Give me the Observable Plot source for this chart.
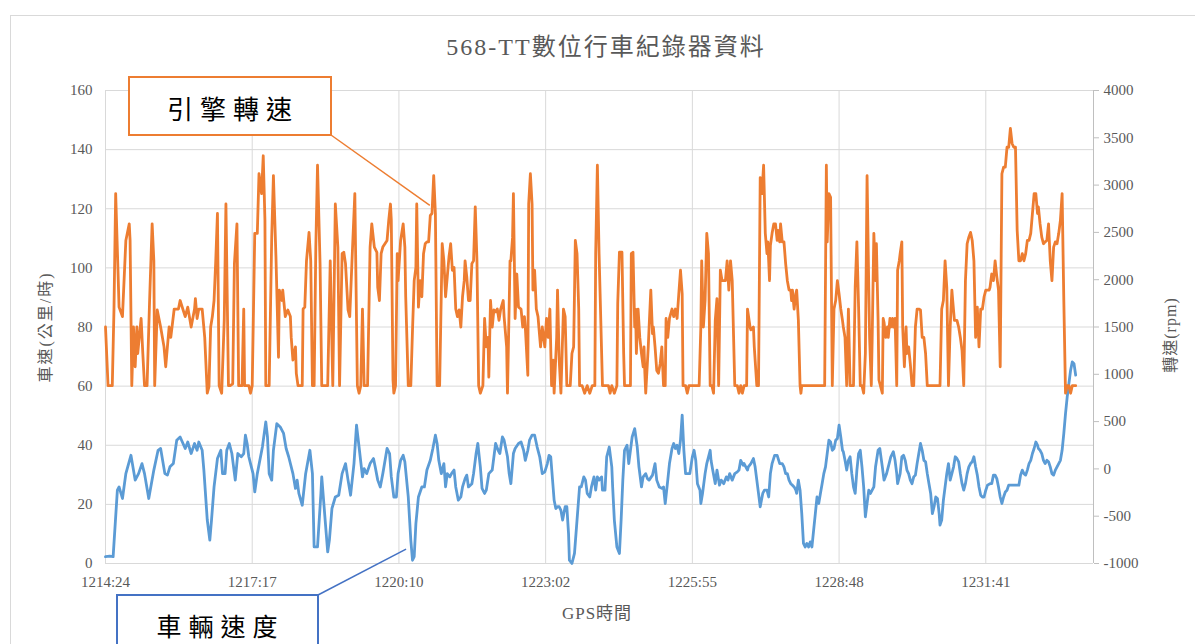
<!DOCTYPE html>
<html><head><meta charset="utf-8">
<script src="https://cdn.jsdelivr.net/npm/d3@7"></script>
<script src="https://cdn.jsdelivr.net/npm/@observablehq/plot@0.6"></script>
<style>
body{margin:0;background:#fff;}
#wrap{position:relative;width:1195px;height:644px;overflow:hidden;background:#fff;}
</style></head><body><div id="wrap"></div>
<script>
// ---- data (sample index = seconds since 12:14:24) ----
const tickIndex = [0,173,346,519,692,865,1038];
const tickLabels = ["1214:24","1217:17","1220:10","1223:02","1225:55","1228:48","1231:41"];
const speedTicks = [0,20,40,60,80,100,120,140,160];
const rpmTicks = [-1000,-500,0,500,1000,1500,2000,2500,3000,3500,4000];

const rpmTime = [0,3,8,10,12,16,20,24,28,29,31,33,35,37,38,42,44,46,49,52,55,57,58,61,65,69,71,75,77,81,86,88,94,97,101,105,
106,108,110,114,117,120,122,124,126,128,130,132,134,137,140,142,145,147,150,152,155,157,161,163,164,169,171,173,176,179,181,184,186,188,189,193,196,198,201,204,205,208,209,212,215,
218,219,221,224,225,227,232,233,235,237,240,242,244,246,248,250,253,255,262,265,268,271,274,276,279,281,283,286,288,291,294,297,299,301,303,305,309,312,314,317,320,321,323,325,327,
332,334,336,337,339,340,342,344,345,347,348,351,353,354,357,360,362,364,366,367,369,371,373,375,377,379,381,383,385,387,389,391,394,397,399,401,403,405,407,409,411,413,415,417,419,421,423,424,426,428,430,432,434,436,438,440,
442,445,447,449,451,452,454,456,458,460,462,464,466,469,470,473,474,477,478,480,481,483,485,487,490,492,494,495,498,499,501,503,504,506,508,510,511,513,515,518,520,522,524,526,528,529,532,533,535,537,540,542,544,548,550,552,
554,556,558,559,562,565,568,571,574,577,578,580,582,586,593,595,597,600,603,604,606,609,611,612,619,620,622,624,625,626,628,630,632,634,635,636,637,640,641,643,645,646,648,650,652,654,656,658,660,661,663,665,
668,670,672,674,676,678,680,681,684,686,688,700,702,703,705,707,709,711,713,715,717,719,721,723,725,727,729,731,733,735,737,739,742,745,747,749,751,753,756,757,760,761,764,765,768,770,772,774,776,778,
780,781,783,784,786,788,790,792,793,795,796,798,800,802,804,806,808,809,810,812,814,815,817,819,820,821,848,850,851,853,855,857,859,861,863,865,867,869,870,872,874,876,878,882,884,886,888,890,892,
894,896,898,900,901,903,904,906,908,909,911,912,914,916,917,918,920,922,923,925,926,928,929,931,933,934,936,937,939,940,942,944,945,947,949,951,953,955,957,959,961,963,965,967,969,984,986,988,990,992,994,996,998,999,1001,
1004,1006,1008,1010,1012,1014,1016,1018,1020,1022,1024,1026,1028,1030,1032,1034,1036,1038,1042,1043,1045,1047,1049,1051,1053,1055,1057,1059,1061,1063,1065,1067,1069,1071,1073,1075,1077,1079,1081,1083,1085,1087,1089,1091,1093,1095,1097,1099,1100,1102,1104,1106,1108,1110,1112,1114,1116,1118,1120,1122,1124,1126,1128,1130,1132,1134,1136,1138,1140,1144];
const rpmValue = [1500,880,880,1690,2910,1710,1610,2415,2590,2415,880,1500,1080,1500,1220,1590,1220,880,880,1780,2590,2200,880,1680,1500,1290,1080,1500,1390,1690,1690,1780,1610,1710,1500,1690,
1800,1590,1690,1690,1390,800,870,1500,1610,1780,2200,2700,880,800,1570,2800,880,880,900,2170,2590,880,880,1690,880,880,800,880,2490,2490,3120,2910,3310,2630,880,880,2450,3100,2240,1180,1890,1780,1890,1610,1680,
1610,1390,1150,1290,1010,880,880,1690,1710,2200,2500,2200,880,880,2345,3210,2170,880,880,2200,880,2800,2345,880,2275,2290,2170,1680,1610,2275,2910,880,800,880,1690,880,880,2345,2590,2345,2290,1920,1780,2275,2345,
2415,2630,2800,2630,940,800,880,2275,1990,2275,2415,2590,2345,1820,880,880,1465,1990,2130,2800,1710,1990,1820,2275,2380,2400,2400,2680,2700,3100,2700,880,880,2380,2200,1820,2030,2240,2380,2100,2130,1690,1610,1680,1500,1820,1990,2200,2030,1780,1780,2170,2200,2770,2200,880,
800,880,1590,1290,1390,970,1780,1500,1680,1660,1690,1570,1690,1780,1610,1290,800,2200,2200,2450,2910,1590,2060,1710,1690,1500,1610,1500,990,2800,3120,2800,1890,2100,1690,1610,1500,1290,1500,1290,1590,1390,1690,880,1150,800,1390,1890,1150,800,1690,1610,880,880,1220,1290,
2415,2275,1690,880,880,800,880,800,880,880,2275,3210,2275,880,880,800,880,800,880,1750,2290,2290,1220,880,880,2275,2290,1500,1690,1220,1690,1390,1220,1080,1290,1010,800,1290,1500,1890,1430,1500,1290,1040,1010,1110,1290,880,880,1590,1390,1590,
1690,1610,1690,1590,1850,2100,1850,880,880,800,880,880,1500,2200,1500,1780,2490,2275,880,880,800,1570,1800,880,2100,1990,1990,1990,2200,1890,2200,1990,880,880,800,880,800,880,880,1690,1500,1470,1500,1290,880,880,3080,2910,3210,2490,
2275,2400,1990,2360,2490,2590,2590,2415,2520,2400,2590,2400,2400,2170,1990,1890,1890,1780,1890,1690,1850,1890,1570,880,800,880,880,3210,2400,2910,2870,880,1690,1780,1990,1850,1690,1570,1500,1390,880,1690,880,880,1920,2400,1710,880,880,
800,1220,3100,1920,1390,880,1360,2490,1990,2380,1570,940,870,800,1590,1550,1390,1500,1390,1590,1500,1590,1500,1590,880,2100,2200,2275,2400,1500,1080,1500,1220,1290,1110,880,880,1500,1690,1690,1680,1390,1390,1220,880,880,1690,1780,2200,1920,880,1500,1890,1780,1570,
1570,1500,1390,1250,880,1990,2380,2450,2500,2415,2200,1390,1710,1290,1690,1690,1820,1890,1890,1920,2060,1990,2200,2030,1890,1080,3120,3190,3190,3400,3400,3600,3440,3400,3400,2520,2200,2200,2275,2200,2275,2415,2415,2490,2700,2910,2910,2700,2770,2590,2450,2380,2400,2415,2590,2200,1990,2345,2400,2380,2490,2630,2910,1780,800,880,880,800,880,880];

const speedTime = [0,5,9,14,16,20,24,30,35,39,43,46,51,57,62,65,70,73,76,80,84,88,94,97,101,105,
108,110,114,116,120,123,125,128,132,136,138,141,143,146,149,153,156,160,163,165,167,169,171,174,176,179,185,189,191,193,196,198,202,206,210,213,216,
221,224,226,228,232,236,241,244,246,250,254,255,259,262,264,267,271,275,279,283,286,289,293,296,299,303,305,308,312,316,318,321,324,327,
332,335,337,340,343,345,348,351,353,357,360,362,364,366,369,373,376,379,383,386,389,391,393,396,399,401,403,406,408,411,413,416,419,421,424,426,428,432,434,437,439,
442,444,447,449,452,456,460,463,465,468,470,474,476,478,481,483,487,490,493,495,498,500,503,506,509,512,515,518,521,523,525,529,531,533,535,537,539,542,544,546,547,550,553,
556,559,561,564,566,568,571,573,576,578,580,582,585,586,589,591,594,597,598,600,603,606,608,610,612,615,617,619,621,624,627,629,632,634,637,639,641,645,648,650,653,656,658,660,663,665,
668,670,672,674,676,678,680,682,684,687,689,692,694,696,698,701,702,704,707,709,713,714,716,719,721,724,726,729,732,734,736,739,742,745,747,749,752,753,757,758,761,764,766,768,770,772,775,777,
780,782,784,786,789,792,795,798,800,802,804,806,808,810,812,814,815,817,819,821,823,825,827,829,831,833,835,837,839,841,843,845,847,849,851,853,855,857,859,861,863,865,867,869,870,872,874,876,878,880,882,884,886,888,
890,892,894,896,898,900,902,904,906,908,911,913,916,918,921,924,926,929,931,933,934,937,939,941,943,945,947,949,951,953,955,957,959,961,963,965,967,969,971,973,975,977,979,981,983,984,986,988,990,992,994,996,998,1000,
1002,1004,1006,1008,1010,1012,1014,1016,1018,1020,1022,1024,1026,1028,1030,1032,1034,1036,1038,1040,1043,1045,1047,1049,1051,1053,1055,1057,1059,1061,1063,1065,1077,1079,1081,1083,1085,1087,1089,1091,1093,1095,1097,1099,1100,1102,1104,1106,1108,1110,1112,1114,1116,1118,1120,1122,1124,1126,1128,1130,1132,1134,1136,1138,1140,1142,1144];
const speedValue = [2.3,2.5,2.3,24.8,25.9,22.0,30.4,36.6,28.2,30.4,33.8,30.4,22.0,31.6,38.3,38.9,30.4,29.9,32.7,33.8,41.7,42.8,38.9,41.1,37.2,40.6,
38.3,41.1,38.3,31.6,14.7,7.9,14.7,25.9,35.5,38.3,30.4,30.4,38.3,40.6,37.2,28.2,37.2,36.1,37.2,43.4,40.6,36.1,33.8,30.4,24.2,30.4,39.4,47.9,42.8,30.4,28.2,38.3,47.3,46.2,44.0,38.9,36.1,
30.4,25.4,28.2,23.7,19.7,30.4,38.3,30.4,5.6,5.6,23.7,29.3,14.7,3.9,7.9,18.6,22.5,23.1,30.4,33.8,28.2,23.1,33.8,46.8,39.4,29.3,32.1,30.4,33.8,35.5,32.7,28.2,25.9,30.4,
38.9,37.2,29.3,22.5,22.5,30.4,34.9,36.6,34.4,22.5,7.9,1.1,2.3,13.5,22.5,25.9,25.9,31.6,34.9,38.9,43.4,40.6,34.9,30.4,33.8,25.9,30.4,29.3,30.4,31.6,25.9,21.4,22.5,25.9,28.7,29.9,25.9,27.0,30.4,37.2,40.6,
32.7,25.4,23.7,24.8,30.4,31.6,40.6,38.3,37.2,42.8,41.7,36.1,30.4,27.0,37.2,38.9,40.6,41.1,38.3,34.9,38.3,41.7,43.4,43.4,39.4,36.1,30.4,31.0,33.8,36.6,36.1,21.4,18.6,19.2,19.2,18.0,14.7,19.2,19.2,10.1,1.1,0,3.4,
14.7,25.9,25.9,29.3,28.2,23.7,22.5,25.9,29.3,24.8,29.3,28.2,29.3,24.8,24.8,36.1,39.4,32.7,25.9,14.7,5.6,3.4,14.7,28.2,38.3,40.0,33.8,38.3,42.8,45.6,39.4,32.7,25.9,29.3,30.4,28.7,28.2,29.9,33.8,28.2,25.9,25.4,25.9,20.3,28.2,33.8,
38.9,40.6,38.9,40.0,37.2,41.7,50.2,38.3,30.4,30.4,30.4,36.1,38.3,34.9,27.0,24.8,20.3,23.7,30.4,33.8,38.3,34.9,31.6,27.0,31.6,26.5,28.2,27.0,29.3,28.2,30.4,28.2,30.4,31.0,31.6,34.9,33.2,33.8,31.6,32.7,33.8,35.5,32.7,28.2,23.7,19.2,23.7,24.8,
24.8,22.5,30.4,33.8,36.6,36.6,33.8,33.8,32.7,30.4,30.4,28.2,27.0,26.5,25.9,24.8,23.7,28.2,24.8,16.9,6.8,5.6,6.8,5.6,7.3,5.6,11.3,16.9,22.5,20.3,23.7,27.0,30.4,32.7,37.2,41.7,41.1,38.3,38.9,41.7,42.3,46.8,42.8,38.3,37.8,34.9,31.6,34.9,36.1,30.4,25.9,23.7,31.6,37.2,
38.3,32.7,25.9,15.8,20.3,24.8,23.7,24.8,25.9,32.7,38.3,38.9,32.7,28.2,30.4,33.8,36.1,37.8,34.9,30.4,27.0,30.4,36.1,36.6,34.9,31.6,30.4,28.2,27.0,29.3,29.9,33.8,37.2,40.6,38.3,34.9,34.4,30.4,27.0,23.7,16.9,19.2,22.5,22.0,16.9,13.0,14.7,21.4,25.9,30.4,33.8,28.2,30.4,32.7,
36.1,35.5,34.4,30.4,27.0,24.8,27.0,30.4,32.7,33.8,34.4,36.1,32.7,29.9,25.9,23.1,22.5,22.5,24.8,26.5,27.0,27.0,29.9,29.9,28.7,25.9,22.5,20.3,22.5,24.2,24.8,26.5,26.5,29.9,31.6,30.4,29.9,31.6,33.8,34.9,37.2,38.9,41.1,40.0,38.9,38.3,37.2,34.9,33.8,34.9,34.4,32.7,30.4,29.9,31.6,32.7,33.8,34.9,38.3,44.0,50.7,56.4,60.9,65.4,68.2,67.6,63.7];

// callout anchors (data coordinates)
const engineAnchor = {t: 383, rpm: 2780};
const speedAnchor = {t: 355, speed: 4.7};

// ---- chart ----
const toY = r => (r + 1000) * 160 / 5000;
const fromY = y => Math.round(y * 5000 / 160 - 1000);
const rpmData = rpmTime.map((t, i) => ({t, v: toY(rpmValue[i])}));
const speedData = speedTime.map((t, i) => ({t, v: speedValue[i]}));
const serif = "'Liberation Serif','Noto Sans CJK TC',serif";

const chart = Plot.plot({
  width: 1195, height: 644,
  marginLeft: 105, marginRight: 102, marginTop: 90, marginBottom: 81,
  x: {domain: [0, 1165]},
  y: {domain: [0, 160]},
  style: {fontFamily: serif, fontSize: "15px", color: "#595959", background: "transparent", overflow: "visible"},
  marks: [
    Plot.gridY(speedTicks, {stroke: "#d9d9d9", strokeOpacity: 1, strokeWidth: 1}),
    Plot.gridX(tickIndex, {stroke: "#d9d9d9", strokeOpacity: 1, strokeWidth: 1}),
    Plot.ruleY([0], {stroke: "#d9d9d9", strokeWidth: 1}),
    Plot.ruleX([1165], {stroke: "#bfbfbf", strokeWidth: 1}),
    Plot.line(speedData, {x: "t", y: "v", stroke: "#5b9bd5", strokeWidth: 2.8, strokeLinejoin: "round", strokeLinecap: "round"}),
    Plot.line(rpmData, {x: "t", y: "v", stroke: "#ed7d31", strokeWidth: 2.8, strokeLinejoin: "round", strokeLinecap: "round"}),
    Plot.axisY(speedTicks, {anchor: "left", tickSize: 0, tickPadding: 13, label: null, fill: "#595959", fontSize: 15}),
    Plot.axisY(rpmTicks.map(toY), {anchor: "right", tickSize: 5, tickPadding: 5, stroke: "#bfbfbf", label: null, tickFormat: d => String(fromY(d)), fill: "#595959", fontSize: 15}),
    Plot.axisX(tickIndex, {anchor: "bottom", tickSize: 0, tickPadding: 13, label: null, tickFormat: d => tickLabels[tickIndex.indexOf(d)], fill: "#595959", fontSize: 15})
  ]
});

const svg = d3.select(chart);
svg.insert("rect", ":first-child")
  .attr("x", 10.5).attr("y", 15.5).attr("width", 1200).attr("height", 700)
  .attr("fill", "#fff").attr("stroke", "#d9d9d9").attr("stroke-width", 1);

const addText = (txt, x, y, size, opts = {}) => {
  const t = svg.append("text").attr("x", x).attr("y", y).text(txt)
    .attr("font-size", size).attr("font-family", opts.family || serif)
    .attr("fill", opts.fill || "#595959").attr("text-anchor", "middle")
    .attr("dominant-baseline", "central");
  if (opts.letter) t.attr("letter-spacing", opts.letter);
  if (opts.rotate != null) t.attr("transform", `rotate(${opts.rotate},${x},${y})`);
  return t;
};
addText("568-TT數位行車紀錄器資料", 606, 47, 24, {letter: 2});
addText("車速(公里/時)", 45, 327, 16, {rotate: -90, letter: 2});
addText("轉速(rpm)", 1170, 335, 16, {rotate: -90, letter: 1});
addText("GPS時間", 597, 613, 17, {letter: 1});

const xs = chart.scale("x"), ys = chart.scale("y");
// engine callout
const e = {x: 129, y: 77, w: 202, h: 58};
svg.append("line").attr("x1", e.x + e.w).attr("y1", e.y + e.h)
  .attr("x2", xs.apply(engineAnchor.t)).attr("y2", ys.apply(toY(engineAnchor.rpm)))
  .attr("stroke", "#ed7d31").attr("stroke-width", 1.5);
svg.append("rect").attr("x", e.x).attr("y", e.y).attr("width", e.w).attr("height", e.h)
  .attr("fill", "#fff").attr("stroke", "#ed7d31").attr("stroke-width", 2);
addText("引擎轉速", e.x + e.w / 2 + 3, e.y + e.h / 2 + 1, 26, {fill: "#000", letter: 7, family: "'Noto Sans CJK TC',sans-serif"});
// speed callout
const s = {x: 117, y: 595, w: 201, h: 70};
svg.append("line").attr("x1", s.x + s.w).attr("y1", s.y)
  .attr("x2", xs.apply(speedAnchor.t)).attr("y2", ys.apply(speedAnchor.speed))
  .attr("stroke", "#4472c4").attr("stroke-width", 1.5);
svg.append("rect").attr("x", s.x).attr("y", s.y).attr("width", s.w).attr("height", s.h)
  .attr("fill", "#fff").attr("stroke", "#4472c4").attr("stroke-width", 2);
addText("車輛速度", s.x + s.w / 2 + 3, 625, 25, {fill: "#000", letter: 7, family: "'Noto Sans CJK TC',sans-serif"});

document.getElementById("wrap").appendChild(chart);
</script></body></html>
